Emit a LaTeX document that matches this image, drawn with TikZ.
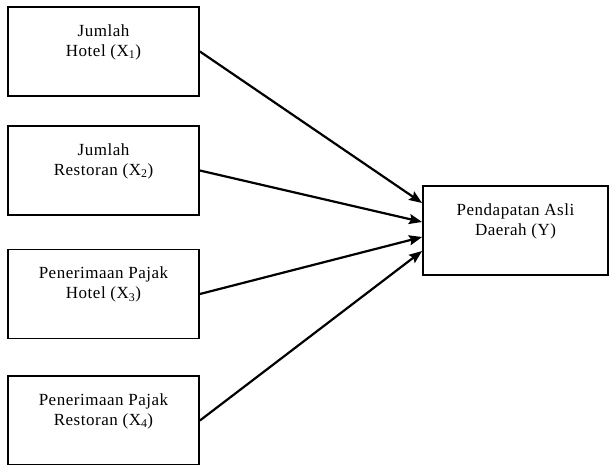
\documentclass[tikz,border=0pt]{standalone}
\usepackage{fontspec}
\setmainfont{Liberation Serif}[LetterSpace=3]
\usetikzlibrary{arrows.meta,calc}

\begin{document}
\begin{tikzpicture}
  [x=1pt,y=-1pt,
   box/.style={draw,line width=1.8pt,minimum width=191pt,minimum height=89pt,inner sep=0pt},
   lbl/.style={anchor=north,align=center,inner sep=0pt,font=\fontsize{17}{20}\selectfont},
   link/.style={line width=2.2pt,-{Stealth[length=13pt,width=10pt,inset=2pt]}}]
\useasboundingbox (0,0) rectangle (609,464);

\node (x1)[box] at (103.5,51.5) {};
  \node (x2)[box] at (103.5,170.5) {};
  \node (x3)[box] at (103.5,294) {};
  \node (x4)[box] at (103.5,420.5) {};
  \node (y)[box,minimum width=185pt] at (515.5,230.5) {};

\node (t1)[lbl] at ($(x1.north)+(0,18)$) {Jumlah\\Hotel (X\textsubscript{1})};
  \node (t2)[lbl] at ($(x2.north)+(0,18)$) {Jumlah\\Restoran (X\textsubscript{2})};
  \node (t3)[lbl] at ($(x3.north)+(0,18)$) {Penerimaan Pajak\\Hotel (X\textsubscript{3})};
  \node (t4)[lbl] at ($(x4.north)+(0,18)$) {Penerimaan Pajak\\Restoran (X\textsubscript{4})};
  \node (ty)[lbl] at ($(y.north)+(0,18)$) {Pendapatan Asli\\Daerah (Y)};

\coordinate (e1) at ($(y.west)+(0,-27.5)$);
  \coordinate (e2) at ($(y.west)+(0,-8.5)$);
  \coordinate (e3) at ($(y.west)+(0,6.5)$);
  \coordinate (e4) at ($(y.west)+(0,20.5)$);

 \path [link] (x1.east) edge (e1);
 \path [link] (x2.east) edge (e2);
 \path [link] (x3.east) edge (e3);
 \path [link] (x4.east) edge (e4);
;
\end{tikzpicture}
\end{document}
